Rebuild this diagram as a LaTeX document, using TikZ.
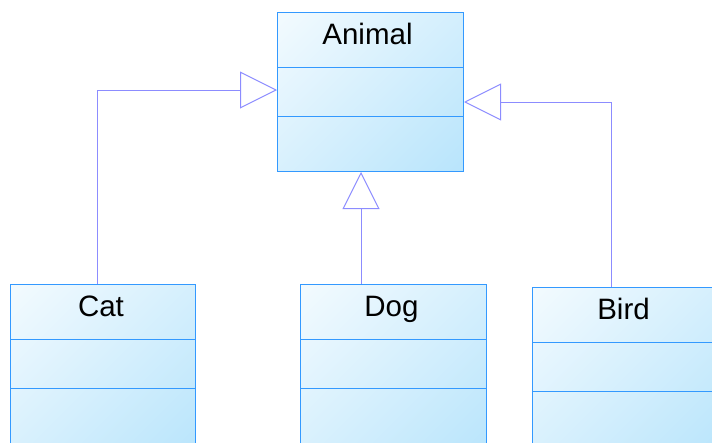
\documentclass[tikz,border=0pt]{standalone}
\usepackage{fontspec}
\setmainfont{Liberation Sans}
\usetikzlibrary{arrows.meta}

\definecolor{classborder}{RGB}{51,153,255}
\definecolor{classfill}{RGB}{172,224,251}
\definecolor{linkcolor}{RGB}{140,140,255}

% linear gradient over the whole box, light blue at the bottom, white at the top
\pgfdeclareverticalshading{classgradient}{100bp}{color(0bp)=(classfill); color(100bp)=(white)}

\tikzset{
  classbox/.style={draw=classborder, line width=1pt, rectangle, inner sep=0pt,
    anchor=north west, minimum width=186pt, minimum height=159pt,
    shade, shading=classgradient, shading angle=45},
  classname/.style={anchor=base, inner sep=0pt, text=black,
    font=\fontsize{29.5}{34}\selectfont},
  divider/.style={draw=classborder, line width=1pt},
  generalization/.style={draw=linkcolor, line width=1pt,
    -{Triangle[open, length=37pt, width=37pt]}}
}

\begin{document}
\begin{tikzpicture}[x=1pt, y=-1pt]
  \useasboundingbox (0,0) rectangle (712,442);
  \clip (0,0) rectangle (712,442);

  % classes
  \node[classbox] (animal) at (277,12) {};
  \node[classbox, minimum width=185pt, minimum height=175pt] (cat) at (10,284) {};
  \node[classbox, minimum height=175pt] (dog) at (300,284) {};
  \node[classbox, minimum height=175pt] (bird) at (532,287) {};

  % class names
  \node[classname] (animalname) at ([yshift=-32.5pt, xshift=-3pt]animal.north) {Animal};
  \node[classname] (catname) at ([yshift=-32pt, xshift=-2pt]cat.north) {Cat};
  \node[classname] (dogname) at ([yshift=-32pt, xshift=-2pt]dog.north) {Dog};
  \node[classname] (birdname) at ([yshift=-32pt, xshift=-2pt]bird.north) {Bird};

  % compartment separators
  \foreach \c in {animal, cat, dog, bird} {
    \draw[divider] ([yshift=-55pt]\c.north west) -- ([yshift=-55pt]\c.north east);
    \draw[divider] ([yshift=-104pt]\c.north west) -- ([yshift=-104pt]\c.north east);
  }

  % inheritance connectors
  \coordinate (catbend) at (97,90);
  \coordinate (dogaxis) at (361,230);
  \coordinate (birdbend) at (611,102);

  \draw[generalization] (catbend |- cat.north) -- (catbend) -- (catbend -| animal.west);
  \draw[generalization] (dogaxis |- dog.north) -- (dogaxis |- animal.south);
  \draw[generalization] (birdbend |- bird.north) -- (birdbend) -- (birdbend -| animal.east);
\end{tikzpicture}
\end{document}
